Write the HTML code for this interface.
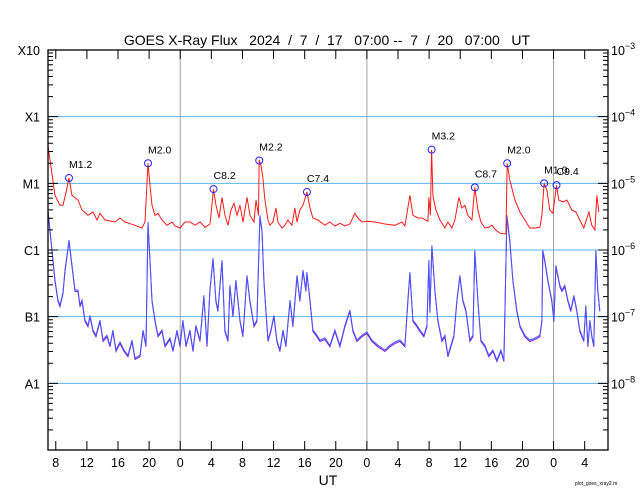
<!DOCTYPE html>
<html><head><meta charset="utf-8"><style>
body{margin:0;background:#fff;}
svg{display:block;font-family:"Liberation Sans",sans-serif;}
</style></head><body>
<svg id="chart" width="640" height="500" viewBox="0 0 640 500">
<rect width="640" height="500" fill="#fff"/>
<text x="327" y="45" font-size="14" text-anchor="middle" xml:space="preserve">GOES X-Ray Flux   2024  /  7  /  17   07:00 --  7  /  20   07:00   UT</text>
<text x="328" y="485" font-size="14" text-anchor="middle">UT</text>
<text x="575" y="485" font-size="5">plot_goes_xray2.m</text>
<g id="grid"></g><g id="series"></g><g id="axes"></g>
</svg>
<script>
const longHours=[0,0.26,0.9,1.54,1.93,2.44,2.7,3.09,3.86,4.37,5.14,5.79,6.3,6.69,7.33,8.61,9.26,9.9,11.19,12.09,12.47,12.86,13.11,13.37,13.76,14.14,14.66,15.3,15.95,16.33,16.98,17.62,18.26,18.9,19.55,20.19,20.83,21.28,21.6,21.99,22.37,22.76,23.14,23.53,23.91,24.3,24.69,25.07,25.58,25.97,26.48,26.74,27.06,27.16,27.38,27.63,27.89,28.28,28.53,28.92,29.31,29.56,30.08,30.46,30.85,31.36,31.75,32.01,32.39,32.78,33.29,33.68,34.06,34.7,35.6,36.25,36.89,37.53,38.17,38.82,39.46,39.85,40.36,41.13,42.03,43.32,44.6,45.5,45.89,46.53,46.92,47.56,48.07,48.84,48.97,49.16,49.32,49.49,49.87,50.39,51.03,51.41,51.93,52.31,52.83,53.21,53.6,53.98,54.5,54.88,55.27,55.66,56.17,56.68,57.07,57.58,58.1,58.87,59.04,59.38,60.03,60.67,61.31,61.95,62.6,63.24,63.5,63.79,64.14,64.52,64.91,65.38,65.68,66.2,66.71,67.35,67.87,68.38,68.89,69.54,69.92,70.31,70.57,70.82];
const longLogFlux=[-4.43,-4.65,-5.18,-5.33,-5.33,-5.07,-4.92,-5.18,-5.25,-5.40,-5.48,-5.43,-5.55,-5.45,-5.55,-5.58,-5.52,-5.58,-5.63,-5.67,-5.58,-4.70,-5.03,-5.33,-5.48,-5.45,-5.55,-5.63,-5.58,-5.64,-5.67,-5.58,-5.58,-5.63,-5.58,-5.66,-5.61,-5.09,-5.33,-5.52,-5.21,-5.48,-5.63,-5.40,-5.30,-5.48,-5.33,-5.58,-5.21,-5.48,-5.58,-5.25,-5.48,-4.65,-4.73,-4.92,-5.25,-5.55,-5.63,-5.58,-5.37,-5.58,-5.67,-5.63,-5.55,-5.63,-5.37,-5.58,-5.40,-5.33,-5.13,-5.37,-5.52,-5.55,-5.63,-5.58,-5.64,-5.60,-5.64,-5.61,-5.45,-5.52,-5.58,-5.57,-5.58,-5.61,-5.63,-5.58,-5.64,-5.18,-5.48,-5.52,-5.52,-5.57,-5.21,-5.48,-4.50,-5.18,-5.40,-5.55,-5.67,-5.58,-5.67,-5.55,-5.21,-5.37,-5.33,-5.48,-5.55,-5.06,-5.40,-5.58,-5.67,-5.66,-5.63,-5.70,-5.75,-5.76,-4.70,-4.95,-5.25,-5.43,-5.55,-5.67,-5.67,-5.66,-5.48,-5.00,-5.10,-5.40,-5.45,-5.03,-5.25,-5.28,-5.25,-5.40,-5.43,-5.55,-5.67,-5.43,-5.63,-5.70,-5.18,-5.43];
const shortHours=[0,0.51,0.9,1.29,1.54,1.93,2.19,2.7,3.09,3.47,3.86,4.11,4.37,4.76,5.14,5.4,5.79,6.17,6.69,7.07,7.58,7.97,8.35,8.74,9.26,9.77,10.28,10.8,11.19,11.83,12.21,12.6,12.86,13.11,13.37,13.76,14.14,14.66,15.04,15.68,16.07,16.58,16.97,17.35,17.74,18.25,18.64,19.02,19.54,20.05,20.44,20.82,21.21,21.59,21.85,22.37,22.75,23.14,23.39,23.78,24.16,24.68,25.06,25.58,25.96,26.48,26.86,27.25,27.51,27.76,28.02,28.28,28.66,29.05,29.43,29.82,30.21,30.59,31.11,31.49,32.01,32.39,32.78,33.16,33.29,33.68,34.06,34.58,34.96,35.6,36.25,36.89,37.53,38.17,38.82,39.2,39.72,40.36,41,41.65,42.42,43.32,43.96,44.6,45.24,45.89,46.27,46.53,46.92,47.43,47.81,48.33,48.71,48.97,49.1,49.36,49.74,50.13,50.64,51.03,51.41,51.8,52.19,52.57,52.96,53.34,53.73,54.24,54.63,54.88,55.27,55.66,56.17,56.68,57.2,57.71,58.23,58.61,59,59.38,59.77,60.28,60.67,61.31,61.95,62.6,63.24,63.5,63.62,63.88,64.27,64.78,65.04,65.3,65.81,66.07,66.45,66.84,67.22,67.61,67.99,68.38,68.89,69.15,69.41,69.67,69.92,70.18,70.44,70.69,70.95];
const shortLogFlux=[-5.40,-6.00,-6.45,-6.75,-6.83,-6.63,-6.30,-5.85,-6.23,-6.60,-6.60,-6.83,-6.75,-7.05,-7.13,-6.98,-7.20,-7.28,-7.05,-7.35,-7.28,-7.43,-7.20,-7.50,-7.38,-7.50,-7.58,-7.35,-7.62,-7.58,-7.20,-7.43,-5.58,-6.15,-6.75,-7.05,-7.28,-7.20,-7.43,-7.32,-7.50,-7.20,-7.43,-7.05,-7.43,-7.20,-7.50,-7.13,-7.35,-6.68,-7.43,-6.60,-6.12,-6.75,-6.90,-6.15,-7.20,-7.35,-6.53,-6.98,-6.45,-7.05,-7.28,-6.38,-6.75,-7.13,-7.05,-5.48,-5.70,-6.45,-6.90,-7.35,-7.20,-6.98,-7.35,-7.50,-7.20,-7.43,-6.75,-7.13,-6.38,-6.75,-6.30,-6.60,-6.33,-6.75,-7.20,-7.28,-7.35,-7.32,-7.43,-7.20,-7.43,-7.13,-6.90,-7.20,-7.35,-7.28,-7.23,-7.35,-7.43,-7.50,-7.43,-7.38,-7.35,-7.43,-6.75,-6.33,-7.05,-7.13,-7.20,-7.28,-7.13,-6.15,-6.92,-5.93,-6.60,-7.05,-7.35,-7.28,-7.58,-7.43,-7.28,-6.75,-6.38,-6.75,-6.90,-7.35,-7.28,-6.00,-6.75,-7.35,-7.43,-7.58,-7.50,-7.65,-7.50,-7.65,-5.48,-5.85,-6.45,-6.90,-7.13,-7.28,-7.35,-7.32,-7.28,-7.05,-6.00,-6.15,-6.45,-6.75,-7.05,-6.23,-6.53,-6.60,-6.53,-6.75,-6.90,-6.68,-6.90,-7.20,-7.35,-6.83,-7.43,-7.05,-7.28,-7.43,-6.00,-6.60,-6.90];
const flareHours=[2.7,12.86,21.28,27.16,33.29,49.32,54.88,59.04,63.79,65.38];
const flareClasses=["M1.2","M2.0","C8.2","M2.2","C7.4","M3.2","C8.7","M2.0","M1.0","C9.4"];
const xTickLabels=["8","12","16","20","0","4","8","12","16","20","0","4","8","12","16","20","0","4"];
const leftLabels=["X10","X1","M1","C1","B1","A1"];
const rightExps=["-3","-4","-5","-6","-7","-8"];

const NS="http://www.w3.org/2000/svg";
const X0=48,X1=608,Y0=50,Y1=450,HOURS=72,LOGTOP=-3,LOGBOT=-9;
const xs=h=>X0+(h/HOURS)*(X1-X0);
const ys=l=>Y0+(LOGTOP-l)/(LOGTOP-LOGBOT)*(Y1-Y0);
function mk(tag,attrs,parent){const e=document.createElementNS(NS,tag);for(const k in attrs)e.setAttribute(k,attrs[k]);parent.appendChild(e);return e;}
const grid=document.getElementById('grid'),series=document.getElementById('series'),axes=document.getElementById('axes');

for(let i=1;i<=5;i++){const y=ys(LOGTOP-i);const l=mk('line',{x1:X0,x2:X1,y1:y,y2:y,stroke:'#5ab4f0','stroke-width':1},grid);

}
[17,41,65].forEach(h=>{const l=mk('line',{x1:xs(h),x2:xs(h),y1:Y0,y2:Y1,stroke:'#a0a0a0','stroke-width':1},grid);

});

function pathD(hs,ls){return hs.map((h,i)=>(i?'L':'M')+xs(h).toFixed(1)+','+ys(ls[i]).toFixed(1)).join('');}
const sp2=mk('path',{d:pathD(shortHours,shortLogFlux),fill:'none',stroke:'#7a1fd0','stroke-width':1,transform:'translate(0,1.5)'},series);


const sp=mk('path',{d:pathD(shortHours,shortLogFlux),fill:'none',stroke:'#4a55ff','stroke-width':1},series);


const lp=mk('path',{d:pathD(longHours,longLogFlux),fill:'none',stroke:'#ff1a1a','stroke-width':1},series);



const mult={X:-4,M:-5,C:-6,B:-7,A:-8};
flareHours.forEach((h,i)=>{const c=flareClasses[i];const lg=mult[c[0]]+Math.log10(parseFloat(c.slice(1)));
const cx=xs(h),cy=ys(lg);
const ci=mk('circle',{cx:cx,cy:cy,r:3.5,fill:'none',stroke:'#2020ff','stroke-width':1},series);


const t=mk('text',{x:cx,y:cy-10,'font-size':10.5},series);t.textContent=c;

});

const fr=mk('rect',{x:X0,y:Y0,width:X1-X0,height:Y1-Y0,fill:'none',stroke:'#000','stroke-width':1.3},axes);


let td='';
for(let d=0;d<6;d++){for(let m=1;m<=9;m++){const y=ys(LOGTOP-d-1+Math.log10(m));const len=m===1?10:5;
td+=`M${X0},${y}h${len}M${X1},${y}h${-len}`;}}
xTickLabels.forEach((lab,i)=>{const x=xs(1+4*i);td+=`M${x},${Y1}v-9M${x},${Y0}v9`;
const t=mk('text',{x:x,y:Y1+17,'font-size':12.5,'text-anchor':'middle'},axes);t.textContent=lab;

});
const tk=mk('path',{d:td,stroke:'#000','stroke-width':1,fill:'none'},axes);


leftLabels.forEach((lab,i)=>{const y=ys(LOGTOP-i);
const t=mk('text',{x:40,y:y+5,'font-size':12.5,'text-anchor':'end'},axes);t.textContent=lab;


const r=mk('text',{x:611,y:y+5,'font-size':12.5},axes);r.textContent='10';


const s=mk('tspan',{dy:-6,'font-size':9},r);s.textContent=rightExps[i].replace('-','\u2212');});
</script>
</body></html>
